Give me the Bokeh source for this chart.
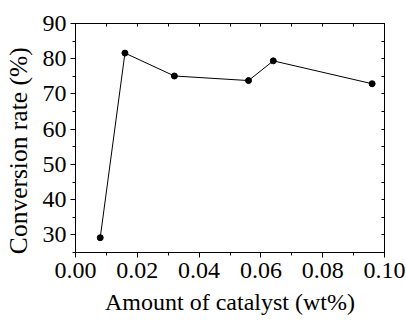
from bokeh.plotting import figure
from bokeh.models import (LinearAxis, SingleIntervalTicker, NumeralTickFormatter,
                          CustomJSTickFormatter, Range1d)
from bokeh.embed import file_html
from bokeh.resources import INLINE

catalyst = [0.008, 0.016, 0.032, 0.056, 0.064, 0.096]
conversion = [29.2, 81.6, 75.1, 73.8, 79.4, 72.9]

FONT = "Liberation Serif"

p = figure(width=406, height=320, output_backend="svg", toolbar_location=None,
           x_range=Range1d(0.0, 0.10), y_range=Range1d(25, 90),
           min_border_left=74, min_border_right=22, min_border_top=23,
           min_border_bottom=68)
p.grid.visible = False
p.outline_line_color = "black"
p.outline_line_width = 1

p.line(catalyst, conversion, line_color="black", line_width=1)
p.scatter(catalyst, conversion, size=6, color="black")

xa = p.xaxis[0]
xa.ticker = SingleIntervalTicker(interval=0.02, num_minor_ticks=2)
xa.formatter = NumeralTickFormatter(format="0.00")
xa.axis_label = "Amount of catalyst (wt%)"
ya = p.yaxis[0]
ya.ticker = SingleIntervalTicker(interval=10, num_minor_ticks=2)
# trailing no-break spaces nudge the rotated title slightly downward, as in the reference
ya.axis_label = "Conversion rate (%)\u00a0\u00a0\u00a0\u00a0"

for ax in (xa, ya):
    ax.axis_line_color = "black"
    ax.major_tick_line_color = "black"
    ax.minor_tick_line_color = "black"
    ax.major_tick_in = 0
    ax.major_tick_out = 5
    ax.minor_tick_in = 0
    ax.minor_tick_out = 3
    ax.major_label_text_font = FONT
    ax.major_label_text_font_size = "24px"
    ax.major_label_text_color = "black"
    ax.axis_label_text_font = FONT
    ax.axis_label_text_font_size = "24px"
    ax.axis_label_text_font_style = "normal"
    ax.axis_label_text_color = "black"
    ax.major_label_standoff = 4
xa.major_label_standoff = 5
xa.axis_label_standoff = 8
ya.axis_label_text_font_size = "25.5px"
ya.axis_label_standoff = 7

blank = CustomJSTickFormatter(code="return '';")
top = LinearAxis(ticker=SingleIntervalTicker(interval=0.01, num_minor_ticks=0),
                 formatter=blank, major_tick_in=3, major_tick_out=0,
                 minor_tick_in=0, minor_tick_out=0, axis_line_color="black")
right = LinearAxis(ticker=SingleIntervalTicker(interval=5, num_minor_ticks=0),
                   formatter=blank, major_tick_in=3, major_tick_out=0,
                   minor_tick_in=0, minor_tick_out=0, axis_line_color="black")
p.add_layout(top, "above")
p.add_layout(right, "right")

open("out.html", "w").write(file_html(p, INLINE))
